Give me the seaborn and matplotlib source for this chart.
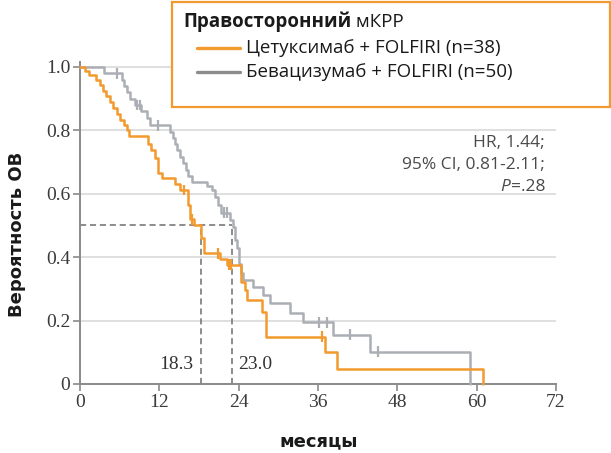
import numpy as np
import pandas as pd
import matplotlib
matplotlib.use("Agg")
import matplotlib.pyplot as plt
import seaborn as sns
from matplotlib.lines import Line2D
from matplotlib.patches import Rectangle

# ---------------- data ----------------
cetux_time = [0, 0.8, 1.3, 2.4, 3.0, 3.5, 4.0, 4.5, 5.0, 5.6, 6.1, 6.6, 7.1, 7.4,
              10.3, 10.8, 11.3, 11.8, 12.4, 14.4, 15.1, 16.4, 16.6, 17.2, 18.3, 18.7,
              21.2, 22.3, 24.4, 25.0, 25.2, 27.5, 28.2, 37.1, 38.8, 60.9]
cetux_surv = [1.0, 0.987, 0.974, 0.958, 0.942, 0.924, 0.907, 0.89, 0.87, 0.851, 0.834, 0.817, 0.80, 0.783,
              0.758, 0.737, 0.712, 0.666, 0.649, 0.63, 0.612, 0.565, 0.52, 0.50, 0.46, 0.412,
              0.395, 0.376, 0.323, 0.297, 0.265, 0.228, 0.149, 0.102, 0.046, 0.0]
cetux_censor = [15.8, 17.0, 20.9, 22.6, 22.9, 36.6]

bev_time = [0, 3.6, 6.3, 6.7, 7.1, 7.6, 8.3, 9.3, 10.1, 10.6, 13.6, 14.1, 14.4, 14.6,
            15.1, 15.6, 16.1, 16.4, 16.9, 19.2, 19.9, 20.4, 20.9, 21.4, 22.7, 23.1, 23.4,
            23.7, 24.0, 24.3, 24.6, 26.1, 27.7, 28.8, 31.7, 33.7, 38.2, 43.9, 59.0]
bev_surv = [1.0, 0.98, 0.96, 0.94, 0.92, 0.90, 0.88, 0.86, 0.84, 0.816, 0.796, 0.776, 0.757, 0.738,
            0.717, 0.696, 0.675, 0.655, 0.638, 0.623, 0.612, 0.59, 0.565, 0.54, 0.517, 0.496, 0.454,
            0.43, 0.38, 0.35, 0.328, 0.307, 0.28, 0.255, 0.223, 0.194, 0.155, 0.102, 0.0]
bev_censor = [5.6, 8.6, 9.0, 11.8, 21.8, 22.2, 36.1, 37.4, 40.9, 45.0]

median_cetux = 18.3
median_bev = 23.0
median_labels = ["18.3", "23.0"]

x_ticks = [0, 12, 24, 36, 48, 60, 72]
y_ticks = [0, 0.2, 0.4, 0.6, 0.8, 1.0]
y_ticklabels = ["0", "0.2", "0.4", "0.6", "0.8", "1.0"]

legend_title_bold = "Правосторонний"
legend_title_rest = " мКРР"
series_labels = ["Цетуксимаб + FOLFIRI (n=38)", "Бевацизумаб + FOLFIRI (n=50)"]
stats_lines = ["HR, 1.44;", "95% CI, 0.81-2.11;", "=.28"]
x_label = "месяцы"
y_label = "Вероятность ОВ"

# ---------------- style ----------------
ORANGE = "#F39A2E"
GRAY = "#ABAFB5"
GRAY_LEG = "#8C8C8C"

sns.set_style("white")
plt.rcParams["font.family"] = ["Open Sans", "DejaVu Sans"]

W, H = 611, 453
fig = plt.figure(figsize=(W / 100, H / 100), dpi=100)

def fx(px):
    return px / W

def fy(py):
    return 1 - py / H

ytop = 1.015
ax = fig.add_axes([fx(80), fy(384), fx(556) - fx(80), (384 - 62.2) / H])

df = pd.concat([
    pd.DataFrame({"time": bev_time, "surv": bev_surv, "group": series_labels[1]}),
    pd.DataFrame({"time": cetux_time, "surv": cetux_surv, "group": series_labels[0]}),
], ignore_index=True)

def surv_at(times, survs, t):
    i = np.searchsorted(np.array(times), t, side="right") - 1
    return survs[i]

cens = pd.concat([
    pd.DataFrame({"time": bev_censor,
                  "surv": [surv_at(bev_time, bev_surv, t) for t in bev_censor],
                  "group": series_labels[1]}),
    pd.DataFrame({"time": cetux_censor,
                  "surv": [surv_at(cetux_time, cetux_surv, t) for t in cetux_censor],
                  "group": series_labels[0]}),
], ignore_index=True)

pal = {series_labels[0]: ORANGE, series_labels[1]: GRAY}

# median dashed lines
dash_kw = dict(color="#6E6E6E", lw=1.1, ls=(0, (4, 2.5)), zorder=1)
ax.plot([0, median_bev], [0.5, 0.5], **dash_kw)
ax.plot([median_cetux, median_cetux], [0, 0.5], **dash_kw)
ax.plot([median_bev, median_bev], [0, 0.5], **dash_kw)

sns.lineplot(data=df, x="time", y="surv", hue="group", palette=pal,
             hue_order=[series_labels[1], series_labels[0]],
             drawstyle="steps-post", estimator=None, sort=False,
             legend=False, lw=1.8, ax=ax, zorder=3, clip_on=False)
sns.scatterplot(data=cens, x="time", y="surv", hue="group", palette=pal,
                marker="|", s=60, linewidth=1.6, legend=False, ax=ax, zorder=4,
                clip_on=False)

ax.set_xlim(0, 72)
ax.set_ylim(0, ytop)
ax.set_xticks(x_ticks)
ax.set_yticks(y_ticks)
ax.set_yticklabels(y_ticklabels)
ax.set_xlabel("")
ax.set_ylabel("")

ax.yaxis.grid(True, color="#DCDCDC", lw=1.3)
ax.xaxis.grid(False)
ax.set_axisbelow(True)

for s in ["top", "right"]:
    ax.spines[s].set_visible(False)
for s in ["left", "bottom"]:
    ax.spines[s].set_color("#8A8A8A")
    ax.spines[s].set_linewidth(1.4)

ax.tick_params(axis="both", which="major", direction="out", length=5, width=1.2,
               color="#8A8A8A", labelcolor="#3A3A3A", labelsize=14, pad=2,
               bottom=True, left=True)
for lab in ax.get_xticklabels() + ax.get_yticklabels():
    lab.set_family(["Liberation Serif", "DejaVu Serif"])

# median labels
ax.text(median_cetux - 1.2, 0.06, median_labels[0], ha="right", va="center",
        family=["Liberation Serif"], fontsize=14, color="#333333")
ax.text(median_bev + 0.9, 0.06, median_labels[1], ha="left", va="center",
        family=["Liberation Serif"], fontsize=14, color="#333333")

# axis labels
fig.text(fx(17), fy(234), y_label, rotation=90, ha="center", va="center",
         fontsize=13, fontweight="bold", color="#1A1A1A", family=["DejaVu Sans"])
fig.text(fx(319), fy(441), x_label, ha="center", va="center",
         fontsize=13, fontweight="bold", color="#1A1A1A", family=["DejaVu Sans"])

# stats text
fig.canvas.draw()
r = fig.canvas.get_renderer()
st_kw = dict(fontsize=12.5, color="#4A4A4A", ha="right", va="center")
fig.text(fx(545), fy(143), stats_lines[0], **st_kw)
fig.text(fx(545), fy(165), stats_lines[1], **st_kw)
tp = fig.text(fx(545), fy(187), stats_lines[2], **st_kw)
fig.canvas.draw()
bb = tp.get_window_extent(renderer=r)
fig.text(bb.x0 / W, fy(187), "P", style="italic", **st_kw)

# legend box
fig.patches.append(Rectangle((fx(172), fy(107)), fx(610) - fx(172), fy(2) - fy(107),
                             transform=fig.transFigure, fill=True, facecolor="white",
                             edgecolor=ORANGE, lw=1.6, zorder=5))
t1 = fig.text(fx(183), fy(22), legend_title_bold, fontsize=13.5, fontweight="bold",
              ha="left", va="center", color="#1A1A1A", zorder=6)
fig.canvas.draw()
bb1 = t1.get_window_extent(renderer=r)
fig.text(bb1.x1 / W, fy(22), legend_title_rest, fontsize=13.5, ha="left", va="center",
         color="#1A1A1A", zorder=6)
for i, (lab, col) in enumerate(zip(series_labels, [ORANGE, GRAY_LEG])):
    yy = 48 + 24 * i
    fig.lines.append(Line2D([fx(197), fx(240)], [fy(yy), fy(yy)], transform=fig.transFigure,
                            color=col, lw=2.4, zorder=6))
    fig.text(fx(246), fy(yy), lab, fontsize=13.5, ha="left", va="center",
             color="#1A1A1A", zorder=6)

fig.savefig("out.png", dpi=100)
